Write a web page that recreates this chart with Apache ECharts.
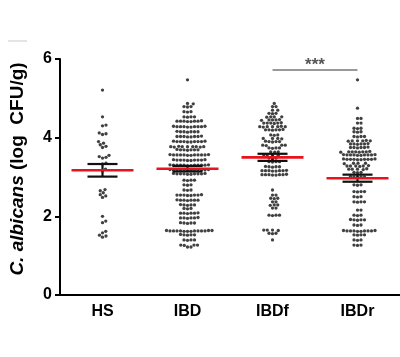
<!DOCTYPE html>
<html><head><meta charset="utf-8">
<script src="https://cdn.jsdelivr.net/npm/echarts@6/dist/echarts.min.js"></script>
<style>html,body{margin:0;padding:0;background:#fff}#c{width:400px;height:357px}</style>
</head><body><div id="c"></div>
<script>
const categories = ['HS', 'IBD', 'IBDf', 'IBDr'];
const yTicks = [0, 2, 4, 6];
const hsValues = [5.21, 4.53, 4.32, 4.30, 4.12, 4.10, 4.08, 3.90, 3.86, 3.82, 3.78, 3.75, 3.55, 3.52, 3.50, 3.48, 3.35, 3.33, 3.20, 3.15, 2.68, 2.65, 2.60, 2.55, 2.52, 2.48, 2.00, 1.88, 1.84, 1.62, 1.58, 1.52, 1.50, 1.47];
const ibdValues = [5.47,
 4.87, 4.86, 4.79, 4.79, 4.78, 4.66, 4.66, 4.65, 4.53, 4.53, 4.52, 4.53,
 4.42, 4.42, 4.41, 4.42, 4.43, 4.42, 4.41, 4.42,
 4.28, 4.28, 4.27, 4.28, 4.29, 4.28, 4.27, 4.28, 4.28, 4.29,
 4.15, 4.15, 4.14, 4.15, 4.16, 4.15, 4.15,
 4.03, 4.03, 4.02, 4.03, 4.04, 4.03, 4.03, 4.02,
 3.90, 3.90, 3.89, 3.90, 3.91, 3.90, 3.90, 3.89, 3.90, 3.91,
 3.77, 3.77, 3.76, 3.77, 3.78, 3.77, 3.77, 3.76, 3.77,
 3.69, 3.69, 3.68, 3.69, 3.70, 3.69, 3.69,
 3.56, 3.56, 3.55, 3.56, 3.57, 3.56, 3.56, 3.55, 3.56, 3.57, 3.56, 3.56,
 3.43, 3.43, 3.42, 3.43, 3.44, 3.43, 3.43, 3.42, 3.43, 3.44,
 3.30, 3.30, 3.29, 3.30, 3.31, 3.30, 3.30, 3.29, 3.30, 3.31, 3.30, 3.30,
 3.18, 3.18, 3.17, 3.18, 3.19, 3.18, 3.18, 3.17, 3.18, 3.19, 3.18, 3.18,
 3.08, 3.08, 3.07, 3.08, 3.09, 3.08, 3.08, 3.07, 3.08, 3.09,
 2.92, 2.92, 2.91, 2.92, 2.80, 2.80, 2.79, 2.67, 2.67, 2.66,
 2.54, 2.54, 2.53, 2.54, 2.55, 2.54, 2.54, 2.53,
 2.41, 2.41, 2.40, 2.41, 2.42, 2.41, 2.41,
 2.29, 2.29, 2.28, 2.29, 2.30, 2.20, 2.20, 2.19,
 2.08, 2.08, 2.07, 2.08, 2.09, 2.08,
 1.96, 1.96, 1.95, 1.96, 1.97, 1.96,
 1.83, 1.83, 1.82, 1.83, 1.84,
 1.63, 1.63, 1.62, 1.63, 1.64, 1.63, 1.63, 1.62, 1.63, 1.64, 1.63, 1.63, 1.62, 1.64,
 1.53, 1.53, 1.52, 1.53, 1.54, 1.40, 1.40, 1.39, 1.40,
 1.27, 1.27, 1.26, 1.27, 1.22, 1.22];
const ibdfValues = [4.87, 4.79, 4.79, 4.70, 4.70, 4.62, 4.62, 4.61,
 4.53, 4.53, 4.52, 4.53, 4.45, 4.45, 4.44, 4.45, 4.46,
 4.37, 4.37, 4.36, 4.37, 4.38, 4.37, 4.28, 4.28, 4.27, 4.28, 4.29, 4.28, 4.28,
 4.20, 4.20, 4.19, 4.20, 4.21, 4.20, 4.07, 4.07, 4.06,
 3.98, 3.98, 3.97, 3.98, 3.90, 3.90, 3.89, 3.90, 3.91,
 3.81, 3.81, 3.80, 3.81, 3.74, 3.74, 3.73, 3.74, 3.64, 3.64, 3.63,
 3.56, 3.56, 3.55, 3.56, 3.48, 3.48, 3.47, 3.39, 3.39, 3.38, 3.39,
 3.26, 3.26, 3.25, 3.26, 3.27,
 3.16, 3.16, 3.15, 3.16, 3.17, 3.16, 3.16, 3.15,
 3.06, 3.06, 3.05, 3.06, 3.07, 3.06, 3.06, 3.05,
 2.67, 2.54, 2.54, 2.46, 2.46, 2.45, 2.37, 2.37, 2.29, 2.29, 2.28, 2.21, 2.21,
 2.03, 2.03, 2.02, 2.03, 1.65, 1.65, 1.64, 1.65, 1.57, 1.57, 1.56, 1.40];
const ibdrValues = [5.47, 4.75, 4.49, 4.49, 4.37, 4.37, 4.24, 4.24, 4.23, 4.15, 4.15, 4.14,
 4.03, 4.03, 4.02, 4.03, 3.92, 3.92, 3.91, 3.92, 3.93, 3.92,
 3.84, 3.84, 3.83, 3.84, 3.85, 3.84, 3.75, 3.75, 3.74, 3.75, 3.76, 3.75,
 3.64, 3.64, 3.63, 3.64, 3.65, 3.64, 3.64, 3.63,
 3.56, 3.56, 3.55, 3.56, 3.57, 3.56, 3.56, 3.55, 3.56, 3.57,
 3.45, 3.45, 3.44, 3.45, 3.46, 3.45, 3.45, 3.44, 3.45, 3.46,
 3.35, 3.35, 3.34, 3.35, 3.28, 3.28, 3.27, 3.28, 3.29, 3.28,
 3.20, 3.20, 3.19, 3.20, 3.21, 3.12, 3.12, 3.11,
 3.00, 3.00, 2.99, 3.00, 3.01, 2.80, 2.80, 2.79,
 2.63, 2.63, 2.62, 2.63, 2.50, 2.50, 2.49, 2.37, 2.37, 2.36, 2.37,
 2.16, 2.16, 2.03, 2.03, 2.02, 1.91, 1.91, 1.90, 1.91, 1.92, 1.78, 1.78, 1.77,
 1.63, 1.63, 1.62, 1.63, 1.64, 1.63, 1.63, 1.62, 1.63, 1.64,
 1.53, 1.53, 1.52, 1.53, 1.40, 1.40, 1.39, 1.27, 1.27, 1.26];
const groupValues = [hsValues, ibdValues, ibdfValues, ibdrValues];
const means = [3.17, 3.21, 3.50, 2.97];
const sems = [0.16, 0.07, 0.09, 0.09];
const sigPairs = [[2, 3, '***', 5.72]];

const FONT = 'Arial, "Liberation Sans", sans-serif';
const chart = echarts.init(document.getElementById('c'), null, {renderer: 'canvas'});

const base = {
  animation: false,
  backgroundColor: '#fff',
  grid: {left: 59, top: 59, width: 355, height: 236, containLabel: false},
  xAxis: [{
    type: 'category', data: categories, position: 'bottom',
    axisLine: {onZero: false, lineStyle: {color: '#000', width: 2}},
    axisTick: {alignWithLabel: true, length: 6, lineStyle: {color: '#000', width: 2}},
    axisLabel: {color: '#000', fontSize: 16, fontWeight: 'bold', fontFamily: FONT, margin: 9},
    splitLine: {show: false}
  }, {
    type: 'value', min: -0.5, max: 3.5, show: false
  }],
  yAxis: {
    type: 'value', min: yTicks[0], max: yTicks[yTicks.length - 1], interval: 2,
    name: '{i|C. albicans} (log  CFU/g)', nameLocation: 'middle', nameGap: 33,
    nameTextStyle: {color: '#000', fontSize: 19, fontWeight: 'bold', fontFamily: FONT, padding: [0, 0, 0, 16],
      rich: {i: {fontStyle: 'italic', fontSize: 19, fontWeight: 'bold', fontFamily: FONT, color: '#000'}}},
    axisLine: {show: true, onZero: false, lineStyle: {color: '#000', width: 2}},
    axisTick: {show: true, length: 5, lineStyle: {color: '#000', width: 2}},
    axisLabel: {color: '#000', fontSize: 16, fontWeight: 'bold', fontFamily: FONT, margin: 8},
    splitLine: {show: false}
  },
  series: []
};
chart.setOption(base);

const pxPerUnitY = Math.abs(chart.convertToPixel({yAxisIndex: 0}, 1) - chart.convertToPixel({yAxisIndex: 0}, 0));
const pxPerUnitX = Math.abs(chart.convertToPixel({xAxisIndex: 1}, 1) - chart.convertToPixel({xAxisIndex: 1}, 0));
const D = 3.5;
function swarm(vals, gi) {
  const sorted = vals.slice().sort((a, b) => a - b);
  const placed = [];
  sorted.forEach(v => {
    const y = v * pxPerUnitY;
    let xo = 0;
    for (let k = 0; k < 400; k++) {
      const c = k === 0 ? 0 : (k % 2 ? 1 : -1) * Math.ceil(k / 2) * 0.25;
      if (placed.every(p => (p.x - c) * (p.x - c) + (p.y - y) * (p.y - y) >= D * D)) { xo = c; break; }
    }
    placed.push({x: xo, y: y, v: v});
  });
  return placed.map(p => [gi + p.x / pxPerUnitX, p.v]);
}

const series = groupValues.map((vals, gi) => ({
  type: 'scatter', xAxisIndex: 1, symbol: 'circle', symbolSize: 3.3,
  itemStyle: {color: '#111'}, data: swarm(vals, gi), silent: true, z: 2
}));

series.push({
  type: 'custom', xAxisIndex: 1, z: 5,
  data: categories.map((c, i) => [i, means[i], sems[i]]),
  renderItem: function (params, api) {
    const i = api.value(0), m = api.value(1), s = api.value(2);
    const pm = api.coord([i, m]);
    const pt = api.coord([i, m + s]);
    const pb = api.coord([i, m - s]);
    const blk = {stroke: '#111', lineWidth: 2.2};
    return {type: 'group', children: [
      {type: 'line', shape: {x1: pt[0], y1: pt[1], x2: pb[0], y2: pb[1]}, style: blk},
      {type: 'line', shape: {x1: pt[0] - 15, y1: pt[1], x2: pt[0] + 15, y2: pt[1]}, style: blk},
      {type: 'line', shape: {x1: pb[0] - 15, y1: pb[1], x2: pb[0] + 15, y2: pb[1]}, style: blk},
      {type: 'line', shape: {x1: pm[0] - 31, y1: pm[1], x2: pm[0] + 31, y2: pm[1]}, style: {stroke: '#e8141c', lineWidth: 2.6}}
    ]};
  }
});

series.push({
  type: 'custom', xAxisIndex: 1, z: 6,
  data: sigPairs.map(p => [p[0], p[1], p[3]]),
  renderItem: function (params, api) {
    const a = api.coord([api.value(0), api.value(2)]);
    const b = api.coord([api.value(1), api.value(2)]);
    const label = sigPairs[params.dataIndex][2];
    return {type: 'group', children: [
      {type: 'line', shape: {x1: a[0], y1: a[1], x2: b[0], y2: b[1]}, style: {stroke: '#777', lineWidth: 1.6}},
      {type: 'text', x: (a[0] + b[0]) / 2, y: a[1] + 4, style: {text: label, fill: '#555', font: 'bold 17px ' + FONT, align: 'center', verticalAlign: 'bottom'}}
    ]};
  }
});

chart.setOption({
  series: series,
  graphic: [{type: 'line', shape: {x1: 8, y1: 41, x2: 27, y2: 41}, style: {stroke: '#e4e4e4', lineWidth: 2}, silent: true}]
});
</script>
</body></html>
